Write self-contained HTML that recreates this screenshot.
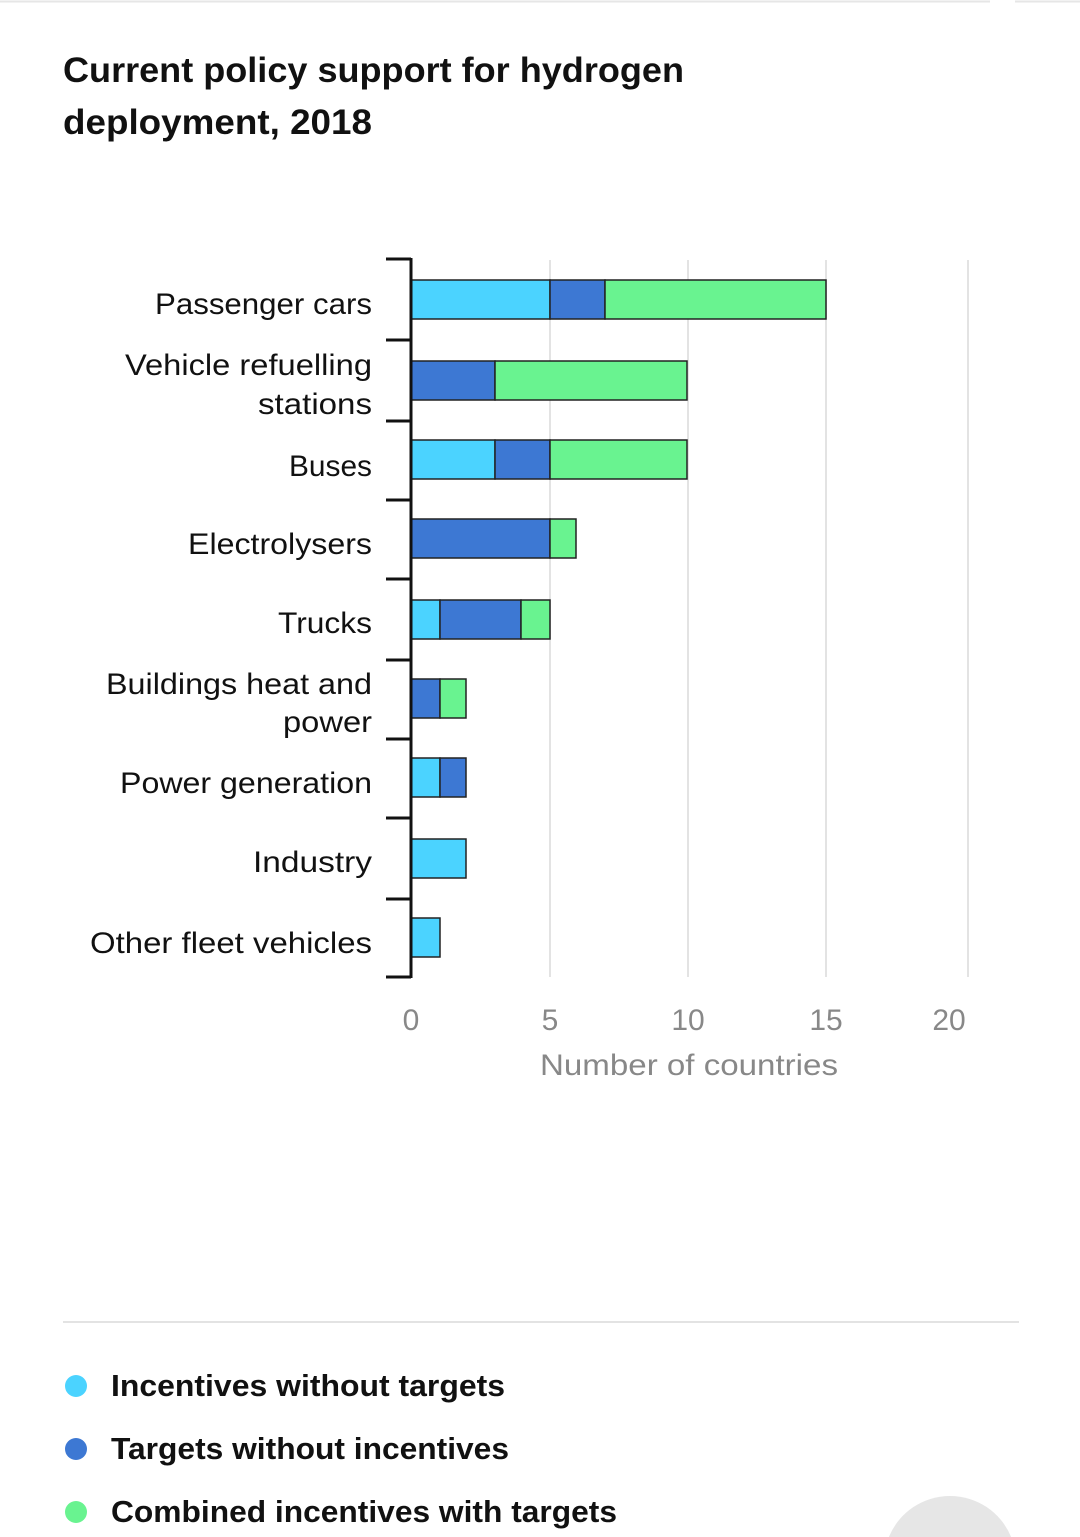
<!DOCTYPE html>
<html><head><meta charset="utf-8"><style>
html,body{margin:0;padding:0;background:#fff;}
body{width:1080px;height:1537px;position:relative;overflow:hidden;font-family:"Liberation Sans",sans-serif;}
</style></head><body>
<svg width="1080" height="1537" xmlns="http://www.w3.org/2000/svg" style="position:absolute;left:0;top:0;display:block">
<line x1="0" y1="1.5" x2="990" y2="1.5" stroke="#e6e6e6" stroke-width="2"/>
<line x1="1015" y1="1.5" x2="1080" y2="1.5" stroke="#e6e6e6" stroke-width="2"/>
<text x="63" y="82" font-size="35" font-weight="bold" fill="#111" textLength="621" lengthAdjust="spacingAndGlyphs">Current policy support for hydrogen</text>
<text x="63" y="134" font-size="35" font-weight="bold" fill="#111" textLength="309" lengthAdjust="spacingAndGlyphs">deployment, 2018</text>
<g stroke="#e3e3e3" stroke-width="2">
<line x1="550" y1="260" x2="550" y2="977"/><line x1="688" y1="260" x2="688" y2="977"/>
<line x1="826" y1="260" x2="826" y2="977"/><line x1="968" y1="260" x2="968" y2="977"/>
</g>
<g stroke="#222" stroke-width="1.5">
<rect x="411" y="280" width="139" height="39" fill="#4bd3ff"/><rect x="550" y="280" width="55" height="39" fill="#3d78d3"/><rect x="605" y="280" width="221" height="39" fill="#69f390"/>
<rect x="411" y="361" width="84" height="39" fill="#3d78d3"/><rect x="495" y="361" width="192" height="39" fill="#69f390"/>
<rect x="411" y="440" width="84" height="39" fill="#4bd3ff"/><rect x="495" y="440" width="55" height="39" fill="#3d78d3"/><rect x="550" y="440" width="137" height="39" fill="#69f390"/>
<rect x="411" y="519" width="139" height="39" fill="#3d78d3"/><rect x="550" y="519" width="26" height="39" fill="#69f390"/>
<rect x="411" y="600" width="29" height="39" fill="#4bd3ff"/><rect x="440" y="600" width="81" height="39" fill="#3d78d3"/><rect x="521" y="600" width="29" height="39" fill="#69f390"/>
<rect x="411" y="679" width="29" height="39" fill="#3d78d3"/><rect x="440" y="679" width="26" height="39" fill="#69f390"/>
<rect x="411" y="758" width="29" height="39" fill="#4bd3ff"/><rect x="440" y="758" width="26" height="39" fill="#3d78d3"/>
<rect x="411" y="839" width="55" height="39" fill="#4bd3ff"/>
<rect x="411" y="918" width="29" height="39" fill="#4bd3ff"/>
</g>
<g stroke="#111" stroke-width="3">
<line x1="411" y1="258" x2="411" y2="978"/>
<line x1="386" y1="259" x2="411" y2="259"/><line x1="386" y1="340" x2="411" y2="340"/><line x1="386" y1="421" x2="411" y2="421"/>
<line x1="386" y1="500" x2="411" y2="500"/><line x1="386" y1="579" x2="411" y2="579"/><line x1="386" y1="660" x2="411" y2="660"/>
<line x1="386" y1="739" x2="411" y2="739"/><line x1="386" y1="818" x2="411" y2="818"/><line x1="386" y1="899" x2="411" y2="899"/>
<line x1="386" y1="977" x2="411" y2="977"/>
</g>
<g font-size="30" fill="#111">
<text x="155" y="314" textLength="217" lengthAdjust="spacingAndGlyphs">Passenger cars</text>
<text x="125" y="375" textLength="247" lengthAdjust="spacingAndGlyphs">Vehicle refuelling</text><text x="258" y="414" textLength="114" lengthAdjust="spacingAndGlyphs">stations</text>
<text x="289" y="476" textLength="83" lengthAdjust="spacingAndGlyphs">Buses</text>
<text x="188" y="554" textLength="184" lengthAdjust="spacingAndGlyphs">Electrolysers</text>
<text x="278" y="633" textLength="94" lengthAdjust="spacingAndGlyphs">Trucks</text>
<text x="106" y="694" textLength="266" lengthAdjust="spacingAndGlyphs">Buildings heat and</text><text x="283" y="732" textLength="89" lengthAdjust="spacingAndGlyphs">power</text>
<text x="120" y="793" textLength="252" lengthAdjust="spacingAndGlyphs">Power generation</text>
<text x="253" y="872" textLength="119" lengthAdjust="spacingAndGlyphs">Industry</text>
<text x="90" y="953" textLength="282" lengthAdjust="spacingAndGlyphs">Other fleet vehicles</text>
</g>
<g font-size="30" fill="#888" text-anchor="middle">
<text x="411" y="1030">0</text><text x="550" y="1030">5</text><text x="688" y="1030">10</text><text x="826" y="1030">15</text><text x="949" y="1030">20</text>
</g>
<text x="540" y="1075" font-size="30" fill="#888" textLength="298" lengthAdjust="spacingAndGlyphs">Number of countries</text>
<line x1="63" y1="1322" x2="1019" y2="1322" stroke="#e3e3e3" stroke-width="2"/>
<circle cx="76" cy="1386" r="11" fill="#4bd3ff"/>
<circle cx="76" cy="1449" r="11" fill="#3d78d3"/>
<circle cx="76" cy="1512" r="11" fill="#69f390"/>
<g font-size="31" font-weight="bold" fill="#111">
<text x="111" y="1396" textLength="394" lengthAdjust="spacingAndGlyphs">Incentives without targets</text>
<text x="111" y="1459" textLength="398" lengthAdjust="spacingAndGlyphs">Targets without incentives</text>
<text x="111" y="1522" textLength="506" lengthAdjust="spacingAndGlyphs">Combined incentives with targets</text>
</g>
<path d="M888.9 1537 A66 66 0 0 1 1011.1 1537 Z" fill="#e6e6e6"/>
</svg>
</body></html>
